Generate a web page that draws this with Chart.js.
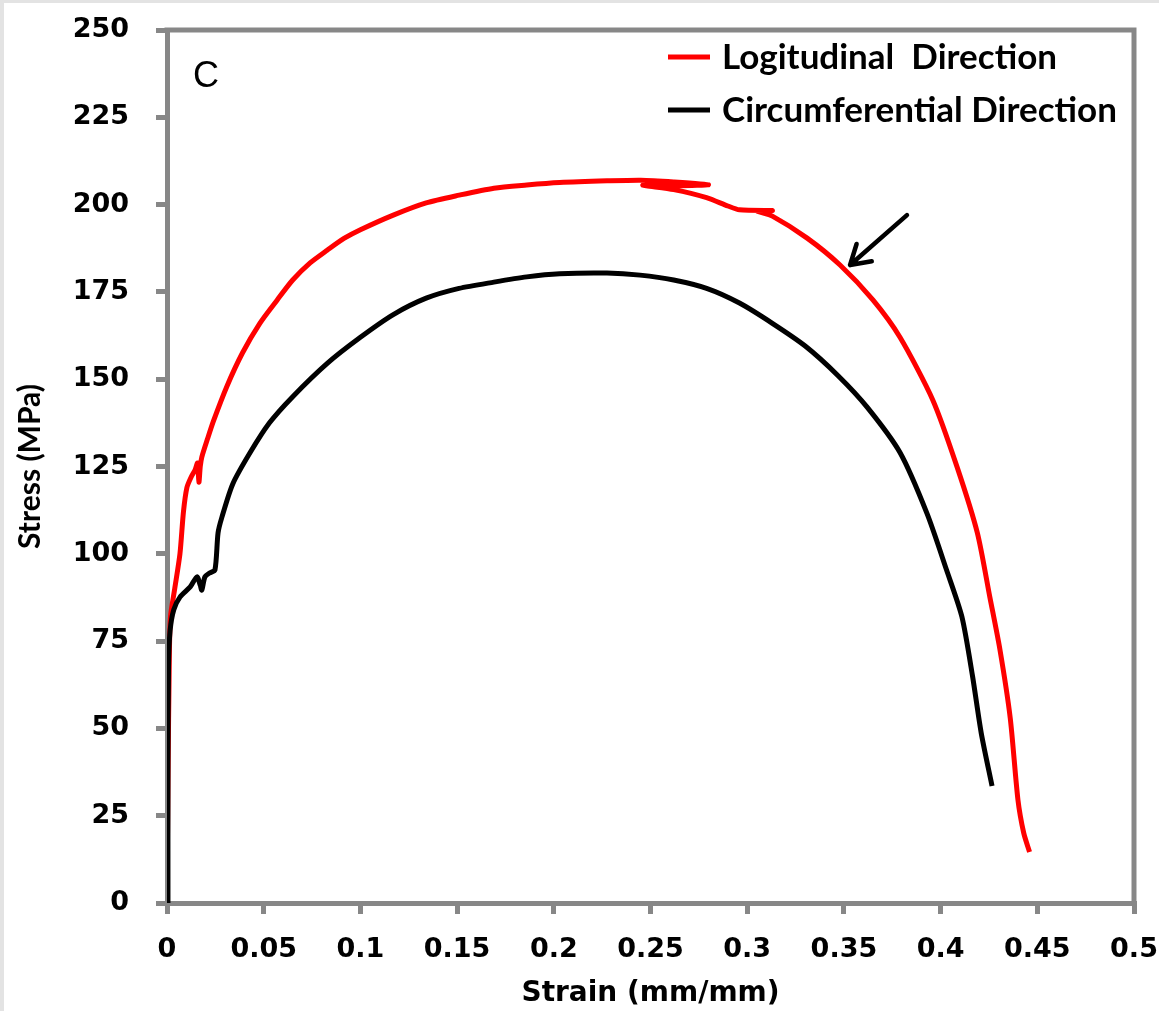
<!DOCTYPE html>
<html>
<head>
<meta charset="utf-8">
<script src="https://cdn.jsdelivr.net/npm/chart.js@4.4.1/dist/chart.umd.min.js"></script>
<style>
  html, body { margin: 0; padding: 0; background: #ffffff; }
  #wrap { position: absolute; left: 0; top: 0; width: 1159px; height: 1011px; }
</style>
</head>
<body>
<div id="wrap"><canvas id="c" width="1159" height="1011"></canvas></div>
<script>
// ---------------- data ----------------
const seriesNames = ['Logitudinal  Direction', 'Circumferential Direction'];

const longStrain = [0, 0.0005, 0.0012, 0.0018, 0.004, 0.0067, 0.0085, 0.0103, 0.0125, 0.0145, 0.0158, 0.0165, 0.0172, 0.018, 0.021, 0.024, 0.031, 0.039, 0.048, 0.057, 0.065, 0.074, 0.083, 0.0915, 0.1, 0.117, 0.134, 0.151, 0.169, 0.186, 0.203, 0.2275, 0.245, 0.262, 0.28, 0.265, 0.246, 0.262, 0.279, 0.29, 0.296, 0.313, 0.305, 0.313, 0.331, 0.348, 0.365, 0.379, 0.396, 0.4085, 0.419, 0.4255, 0.4307, 0.436, 0.44, 0.443, 0.446];
const longStress = [0, 35, 70, 82, 90, 100, 112, 119, 122, 124, 126, 120.5, 125, 127.7, 133, 138, 148, 157.5, 166, 172.7, 178.4, 183.3, 187, 190.3, 192.8, 197, 200.5, 202.7, 204.7, 205.6, 206.3, 206.8, 207, 206.5, 205.7, 205.4, 205.6, 204.3, 202, 199.6, 198.5, 198.3, 198.2, 196.7, 190.4, 182.7, 172.7, 162, 144, 124.9, 106, 87.5, 72.5, 53, 29.5, 20, 14.6];

const circStrain = [0.0005, 0.0005, 0.0008, 0.0016, 0.0035, 0.0067, 0.012, 0.0155, 0.0172, 0.018, 0.0196, 0.022, 0.0248, 0.0264, 0.0284, 0.034, 0.043, 0.053, 0.065, 0.083, 0.1, 0.117, 0.134, 0.151, 0.169, 0.186, 0.203, 0.2275, 0.2446, 0.262, 0.279, 0.296, 0.313, 0.33, 0.347, 0.362, 0.379, 0.393, 0.403, 0.411, 0.4165, 0.421, 0.4266];
const circStress = [0, 40, 68, 78, 84, 87.6, 90.5, 93.4, 91, 89.6, 93.4, 94.5, 95.4, 106, 110.5, 120, 129, 137.5, 145, 154.6, 162, 168.5, 173.2, 176, 177.8, 179.3, 180.2, 180.4, 179.8, 178.4, 176, 171.8, 166, 159.5, 151, 142, 129, 111.5, 95.5, 82, 65, 48.7, 33.5];

const xTickLabels = ['0', '0.05', '0.1', '0.15', '0.2', '0.25', '0.3', '0.35', '0.4', '0.45', '0.5'];
const yTickLabels = ['0', '25', '50', '75', '100', '125', '150', '175', '200', '225', '250'];

const xTitle = 'Strain (mm/mm)';
const yTitle = 'Stress (MPa)';
const panelLabel = 'C';
// arrow annotation (data units): tail and tip
const arrowTail = [0.3826, 197];
const arrowTip = [0.3532, 182.7];

// ---------------- helpers ----------------
function toPoints(xs, ys) { return xs.map((x, i) => ({ x: x, y: ys[i] })); }

const AXIS_GRAY = '#878787';
const TITLE_FONT = 'Lato';

const framePlugin = {
  id: 'frame',
  beforeDraw(chart) {
    const ctx = chart.ctx;
    ctx.save();
    ctx.fillStyle = '#e3e3e3';
    ctx.fillRect(0, 0, chart.width, chart.height);
    ctx.fillStyle = '#ffffff';
    ctx.fillRect(4, 3, chart.width - 4, chart.height - 3);
    ctx.restore();
  },
  afterDraw(chart) {
    const ctx = chart.ctx;
    const a = chart.chartArea;
    const xs = chart.scales.x, ys = chart.scales.y;
    ctx.save();
    // top and right border of plot
    ctx.strokeStyle = AXIS_GRAY;
    ctx.lineWidth = 5;
    ctx.lineCap = 'butt';
    ctx.beginPath();
    ctx.moveTo(a.left - 2.5, a.top);
    ctx.lineTo(a.right, a.top);
    ctx.lineTo(a.right, a.bottom + 2.5);
    ctx.stroke();

    // panel label
    ctx.fillStyle = '#000';
    ctx.font = '36px "Liberation Sans"';
    ctx.textAlign = 'left';
    ctx.textBaseline = 'alphabetic';
    ctx.fillText(panelLabel, a.left + 26, a.top + 57);

    // legend
    const items = chart.data.datasets.map(d => ({ label: d.label, color: d.borderColor, order: d.legendIdx }));
    items.sort((p, q) => p.order - q.order);
    ctx.font = 'bold 35px "' + TITLE_FONT + '"';
    ctx.textBaseline = 'middle';
    items.forEach((it, i) => {
      const yy = a.top + 27 + i * 53;
      ctx.strokeStyle = it.color;
      ctx.lineWidth = 5;
      ctx.beginPath();
      ctx.moveTo(a.left + 501, yy);
      ctx.lineTo(a.left + 543, yy);
      ctx.stroke();
      ctx.fillStyle = '#000';
      ctx.fillText(it.label, a.left + 555, yy + 1);
    });

    // arrow
    const tx = xs.getPixelForValue(arrowTip[0]), ty = ys.getPixelForValue(arrowTip[1]);
    const sx = xs.getPixelForValue(arrowTail[0]), sy = ys.getPixelForValue(arrowTail[1]);
    const ang = Math.atan2(ty - sy, tx - sx);
    ctx.strokeStyle = '#000';
    ctx.lineWidth = 4.5;
    ctx.lineCap = 'round';
    ctx.lineJoin = 'round';
    ctx.beginPath();
    ctx.moveTo(sx, sy);
    ctx.lineTo(tx, ty);
    const hl = 22, spread = 0.55;
    ctx.moveTo(tx - hl * Math.cos(ang - spread), ty - hl * Math.sin(ang - spread));
    ctx.lineTo(tx, ty);
    ctx.lineTo(tx - hl * Math.cos(ang + spread), ty - hl * Math.sin(ang + spread));
    ctx.stroke();
    ctx.restore();
  }
};

const ctx = document.getElementById('c').getContext('2d');
new Chart(ctx, {
  type: 'line',
  data: {
    datasets: [
      {
        label: seriesNames[1],
        legendIdx: 1,
        data: toPoints(circStrain, circStress),
        borderColor: '#000000',
        backgroundColor: '#000000',
        borderWidth: 5,
        pointRadius: 0,
        tension: 0.25,
        fill: false
      },
      {
        label: seriesNames[0],
        legendIdx: 0,
        data: toPoints(longStrain, longStress),
        borderColor: '#ff0000',
        backgroundColor: '#ff0000',
        borderWidth: 5,
        pointRadius: 0,
        tension: 0.25,
        fill: false
      }
    ]
  },
  options: {
    responsive: false,
    animation: false,
    devicePixelRatio: 1,
    layout: { padding: { left: 0, top: 30, right: 25, bottom: 0 } },
    plugins: { legend: { display: false }, tooltip: { enabled: false } },
    scales: {
      x: {
        type: 'linear',
        min: 0, max: 0.5,
        afterFit(scale) { scale.height = 108; scale.paddingLeft = 0; scale.paddingRight = 0; },
        ticks: {
          stepSize: 0.05,
          color: '#000',
          font: { family: 'DejaVu Sans', weight: 'bold', size: 27 },
          padding: 20,
          maxRotation: 0,
          autoSkip: false,
          callback: (v, i) => xTickLabels[i]
        },
        grid: { drawOnChartArea: false, color: AXIS_GRAY, lineWidth: 5, tickLength: 11 },
        border: { display: true, color: AXIS_GRAY, width: 5 },
        title: {
          display: true, text: xTitle, color: '#000',
          font: { family: 'DejaVu Sans', weight: 'bold', size: 28 },
          padding: { top: 0, bottom: 0 }
        }
      },
      y: {
        type: 'linear',
        min: 0, max: 250,
        afterFit(scale) { scale.width = 167; scale.paddingTop = 0; scale.paddingBottom = 0; },
        ticks: {
          stepSize: 25,
          color: '#000',
          font: { family: 'DejaVu Sans', weight: 'bold', size: 27 },
          padding: 27,
          autoSkip: false,
          callback: (v, i) => yTickLabels[i]
        },
        grid: { drawOnChartArea: false, color: AXIS_GRAY, lineWidth: 5, tickLength: 11 },
        border: { display: true, color: AXIS_GRAY, width: 5 },
        title: {
          display: true, text: yTitle, color: '#000',
          font: { family: TITLE_FONT, weight: 'bold', size: 30 },
          padding: { top: 12, bottom: 0 }
        }
      }
    }
  },
  plugins: [framePlugin]
});
</script>
</body>
</html>
